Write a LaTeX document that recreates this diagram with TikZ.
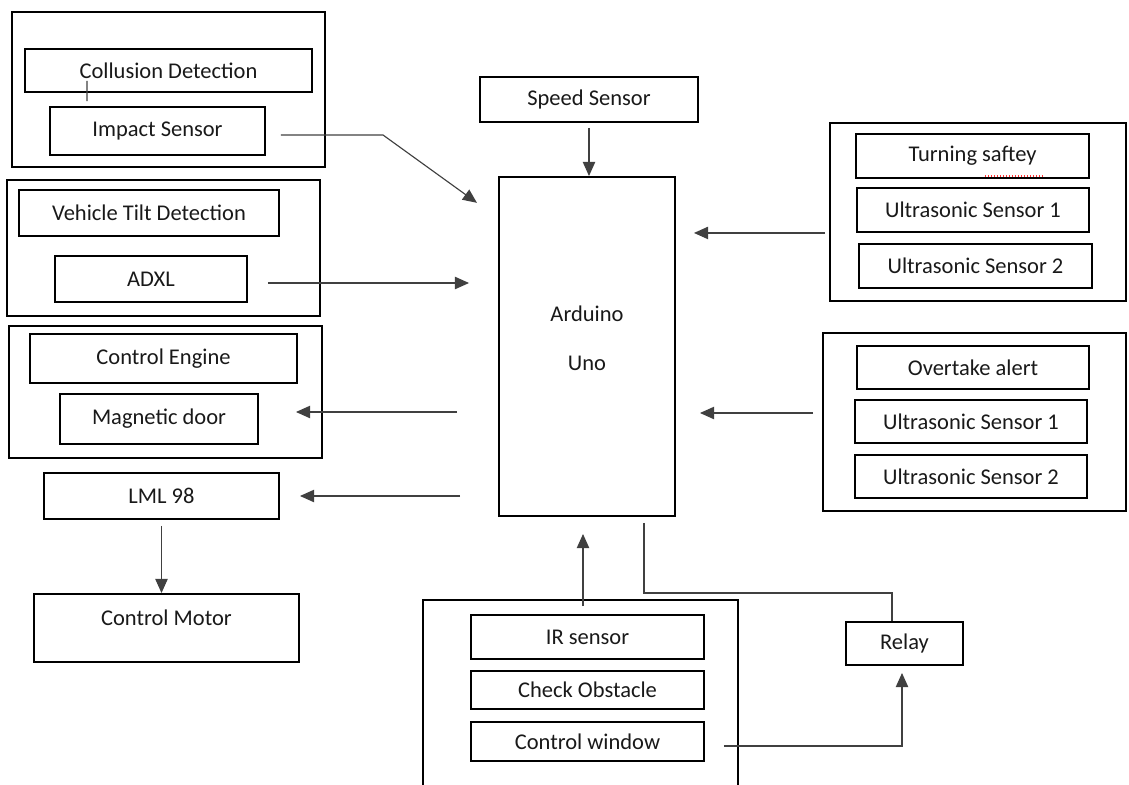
\documentclass[tikz,border=0pt]{standalone}
\usepackage{fontspec}
\setmainfont{Carlito}
\usepackage{tikz}
\usetikzlibrary{arrows.meta, positioning}

\begin{document}
\begin{tikzpicture}[
  x=0.2mm, y=-0.2mm,
  blk/.style={draw, line width=1.1pt, inner sep=0pt, font=\fontsize{12.8}{15}\selectfont, text=black!90},
  grp/.style={draw, line width=1.1pt, inner sep=0pt},
  arr/.style={-{Triangle[length=8pt, width=7pt]}, line width=0.65pt, black!75},
  wire/.style={line width=0.65pt, black!75}
]
\useasboundingbox (0,0) rectangle (1129,785);

% left column
\node[grp, minimum width=6.26cm, minimum height=3.10cm] (gcol) at (168.5,89.5) {};
\node[blk, minimum width=5.74cm, minimum height=0.86cm] (coll) at (168.5,70.5) {Collusion Detection};
\node[blk, minimum width=4.30cm, minimum height=0.96cm] (imp) at (157.5,131) {Impact Sensor};

\node[grp, minimum width=6.26cm, minimum height=2.72cm] (gtilt) at (163.5,248) {};
\node[blk, minimum width=5.20cm, minimum height=0.92cm] (tilt) at (149,213) {Vehicle Tilt Detection};
\node[blk, minimum width=3.84cm, minimum height=0.92cm] (adxl) at (151,279) {ADXL};

\node[grp, minimum width=6.26cm, minimum height=2.64cm] (geng) at (165.5,392) {};
\node[blk, minimum width=5.34cm, minimum height=0.98cm] (eng) at (163.5,358.5) {Control Engine};
\node[blk, minimum width=3.96cm, minimum height=1.00cm] (door) at (159,419) {Magnetic door};

\node[blk, minimum width=4.70cm, minimum height=0.92cm] (lml) at (161.5,496) {LML 98};
\node[blk, minimum width=5.30cm, minimum height=1.36cm, text depth=0.4cm] (motor) at (166.5,628) {Control Motor};

% middle
\node[blk, minimum width=4.36cm, minimum height=0.90cm] (spd) at (589,99.5) {Speed Sensor};
\node[blk, minimum width=3.52cm, minimum height=6.78cm,
      label={[yshift=0.17cm, align=center, font=\fontsize{12.8}{15}\selectfont, text=black!90]center:Arduino\\[0.45cm]Uno}] (ard) at (587,346.5) {};

% right column
\node[grp, minimum width=5.92cm, minimum height=3.56cm] (gturn) at (978,212) {};
\node[blk, minimum width=4.66cm, minimum height=0.88cm] (turn) at (972.5,156) {Turning saftey};
\node[blk, minimum width=4.64cm, minimum height=0.88cm] (usa1) at (973,210) {Ultrasonic Sensor 1};
\node[blk, minimum width=4.66cm, minimum height=0.88cm] (usa2) at (975.5,266) {Ultrasonic Sensor 2};

\node[grp, minimum width=6.06cm, minimum height=3.56cm] (gover) at (974.5,422) {};
\node[blk, minimum width=4.64cm, minimum height=0.86cm] (over) at (973,367.5) {Overtake alert};
\node[blk, minimum width=4.64cm, minimum height=0.86cm] (usb1) at (971,421.5) {Ultrasonic Sensor 1};
\node[blk, minimum width=4.64cm, minimum height=0.86cm] (usb2) at (971,476.5) {Ultrasonic Sensor 2};

% bottom
\node[grp, minimum width=6.30cm, minimum height=4.00cm] (gir) at (580.5,700) {};
\node[blk, minimum width=4.66cm, minimum height=0.88cm] (ir) at (587.5,637) {IR sensor};
\node[blk, minimum width=4.66cm, minimum height=0.76cm] (obs) at (587.5,690) {Check Obstacle};
\node[blk, minimum width=4.66cm, minimum height=0.78cm] (win) at (587.5,741.5) {Control window};
\node[blk, minimum width=2.34cm, minimum height=0.86cm] (relay) at (904.5,643.5) {Relay};

\coordinate (kink) at (383,135);
\coordinate (bend) at (892,593);

\draw[wire] ([xshift=1.26cm, yshift=0.24cm]coll.south west) -- ([xshift=0.76cm, yshift=0.1cm]imp.north west);
\draw[red!80, densely dotted, line width=0.7pt] ([xshift=0.25cm, yshift=0.06cm]turn.south) -- ([xshift=1.39cm, yshift=0.06cm]turn.south);

\draw[arr, shorten <=0.3cm, shorten >=0.52cm] ([yshift=-0.08cm]imp.east) -- (kink) -- ([yshift=-0.84cm]ard.north west);
\draw[arr] ([yshift=-0.1cm]spd.south) -- (spd.south |- ard.north);
\draw[arr, shorten <=0.4cm, shorten >=0.58cm] ([yshift=-0.08cm]adxl.east) -- ([yshift=-0.08cm]adxl.east -| ard.west);
\draw[arr, shorten <=0.08cm, shorten >=0.36cm] (usa1.south -| gturn.west) -- (usa1.south -| ard.east);
\draw[arr, shorten <=0.18cm, shorten >=0.48cm] ([yshift=0.18cm]gover.west) -- ([yshift=0.18cm]gover.west -| ard.east);
\draw[arr, shorten <=0.82cm, shorten >=0.74cm] ([yshift=0.14cm]door.east -| ard.west) -- ([yshift=0.14cm]door.east);
\draw[arr, shorten <=0.76cm, shorten >=0.4cm] (lml.east -| ard.west) -- (lml.east);
\draw[arr, shorten <=0.12cm] (lml.south) -- (lml.south |- motor.north);
\draw[arr, shorten <=-0.14cm, shorten >=0.34cm] ([xshift=0.05cm]gir.north) -- ([xshift=0.05cm]gir.north |- ard.south);
\draw[wire] ([xshift=1.14cm, yshift=-0.12cm]ard.south) |- (bend) -- (bend |- relay.north);
\draw[arr, shorten <=0.38cm, shorten >=0.14cm] ([yshift=-0.09cm]win.east) -| ([xshift=-0.05cm]relay.south);
\end{tikzpicture}
\end{document}
